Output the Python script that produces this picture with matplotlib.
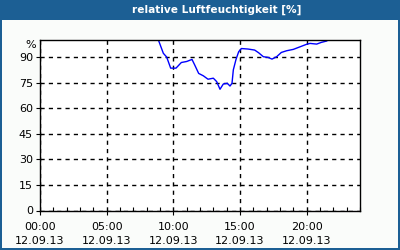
import matplotlib
matplotlib.use("Agg")
import matplotlib.pyplot as plt
import matplotlib.patches as mpatches

# Stunden seit 00:00 am 12.09.13 und relative Luftfeuchte in %
hours = [8.88, 9.25, 9.5, 9.8, 10.2, 10.6, 11.0, 11.4, 11.6, 11.9, 12.25, 12.6,
         13.0, 13.25, 13.5, 13.75, 14.05, 14.25, 14.4, 14.5, 14.7, 14.9, 15.1,
         15.6, 16.1, 16.4, 16.75, 17.1, 17.4, 17.75, 18.1, 18.5, 19.0, 19.5,
         20.0, 20.25, 20.75, 21.1, 21.5, 21.6]
humidity = [100, 92.2, 90, 83.5, 83.5, 86.8, 87.4, 88.6, 85.4, 80.4, 79, 77,
            77.6, 75.6, 71.1, 74.2, 74.6, 73, 74.6, 82.5, 88.6, 93.1, 95,
            94.7, 94.1, 92.5, 90.2, 89.8, 88.8, 90.2, 92.7, 93.7, 94.5, 96,
            97.5, 98, 97.6, 98.6, 99.4, 100]

x_ticks = [0, 5, 10, 15, 20]
x_labels = ["00:00\n12.09.13", "05:00\n12.09.13", "10:00\n12.09.13",
            "15:00\n12.09.13", "20:00\n12.09.13"]
y_ticks = [0, 15, 30, 45, 60, 75, 90]

blue = "#1c5f94"
fig = plt.figure(figsize=(4, 2.5), dpi=100)
fig.patch.set_facecolor(blue)
# weisser Innenbereich unter der Titelleiste
fig.patches.append(mpatches.Rectangle((2 / 400, 2 / 250), 396 / 400, 228 / 250,
                                      transform=fig.transFigure, fc="#fafcfa",
                                      ec="none", zorder=-5))
fig.text(217 / 400, 1 - 10 / 250, "relative Luftfeuchtigkeit [%]", color="white",
         fontsize=7.6, weight="bold", ha="center", va="center")

ax = fig.add_axes([40 / 400, 39.5 / 250, 320 / 400, 170.5 / 250])
ax.set_facecolor("white")
ax.plot(hours, humidity, color="#0000ff", lw=1)
ax.set_xlim(0, 24)
ax.set_ylim(0, 100)

ax.set_xticks(x_ticks)
ax.set_xticklabels(x_labels, fontsize=8, linespacing=1.6)
ax.set_xticks(range(0, 25), minor=True)
ax.set_yticks(y_ticks)
ax.set_yticklabels([str(v) for v in y_ticks], fontsize=8)
ax.tick_params(axis="both", which="major", length=3, width=0.8, pad=2)
ax.tick_params(axis="x", which="major", pad=5)
ax.tick_params(axis="x", which="minor", length=3, width=0.8, direction="in")
ax.text(-0.012, 0.97, "%", transform=ax.transAxes, ha="right", va="center", fontsize=8)

ax.grid(True, which="major", color="black", ls=(0, (3, 3)), lw=1)
for s in ax.spines.values():
    s.set_linewidth(1)

fig.savefig("out.png", dpi=100, facecolor=fig.get_facecolor())
